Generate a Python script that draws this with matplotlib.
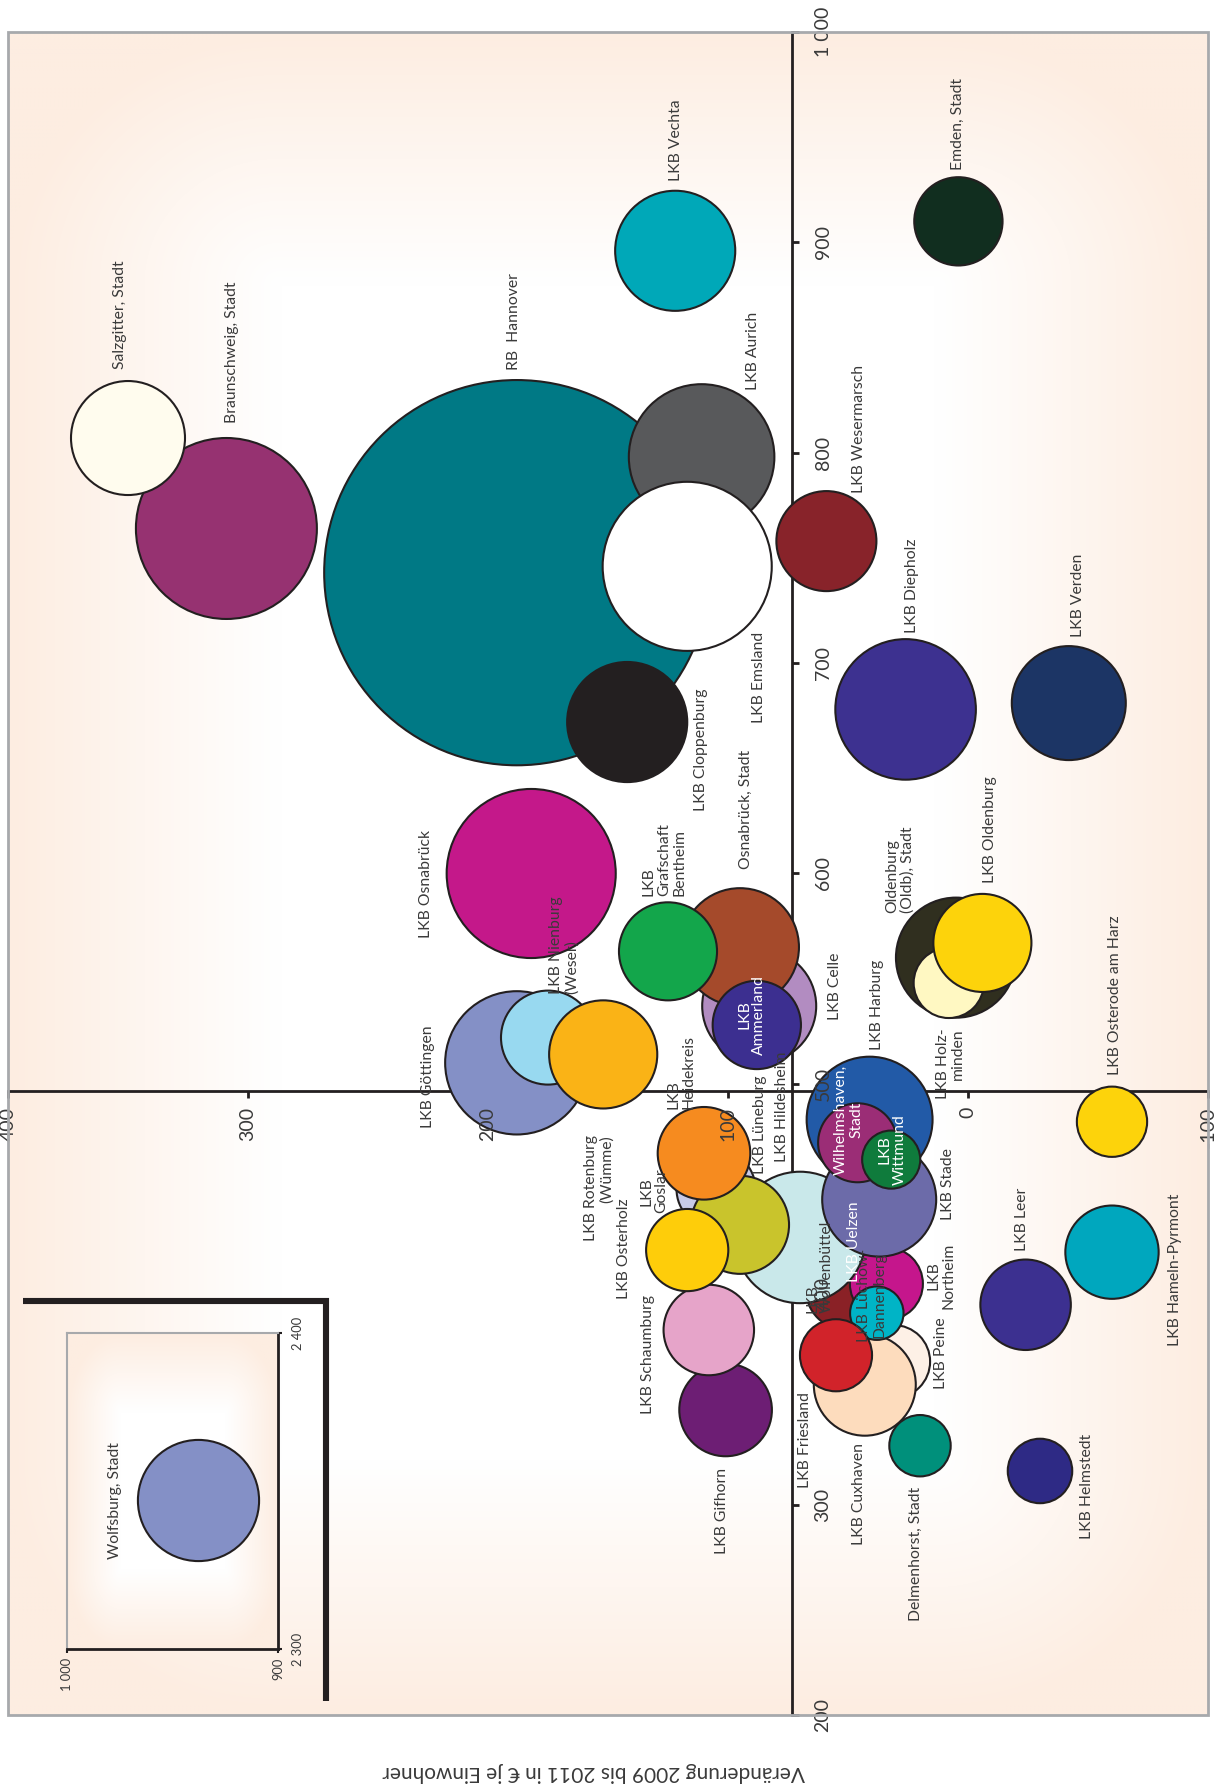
import numpy as np
import matplotlib.pyplot as plt
from matplotlib.patches import Rectangle
from matplotlib.lines import Line2D
from matplotlib.transforms import offset_copy

plt.rcParams['font.family'] = ['Lato', 'DejaVu Sans']

# Kreise / Städte in Zeichenreihenfolge (hinten -> vorne)
namen = [
    "RB  Hannover", "LKB Aurich", "LKB Emsland", "LKB Cloppenburg",
    "Braunschweig, Stadt", "Salzgitter, Stadt", "LKB Vechta", "Emden, Stadt",
    "LKB Wesermarsch", "LKB Diepholz", "LKB Verden", "LKB Osnabrück",
    "LKB Göttingen", "LKB Nienburg (Weser)", "LKB Rotenburg (Wümme)",
    "LKB Celle", "Osnabrück, Stadt", "LKB Grafschaft Bentheim", "LKB Ammerland",
    "Oldenburg (Oldb), Stadt", "LKB Holzminden", "LKB Oldenburg",
    "LKB Osterode am Harz", "LKB Peine", "LKB Cuxhaven", "LKB Wolfenbüttel",
    "LKB Northeim", "LKB Lüchow-Dannenberg", "LKB Friesland", "Delmenhorst, Stadt",
    "LKB Hildesheim", "LKB Goslar", "LKB Lüneburg", "LKB Heidekreis",
    "LKB Gifhorn", "LKB Schaumburg", "LKB Osterholz", "LKB Harburg",
    "LKB Uelzen", "Wilhelmshaven, Stadt", "LKB Wittmund",
    "LKB Helmstedt", "LKB Leer", "LKB Hameln-Pyrmont",
]
# Veränderung 2009 bis 2011 in € je Einwohner (waagerecht)
veraenderung = [
    188, 111, 117, 142,
    309, 350, 122, 4,
    59, 26, -42, 182,
    188, 175, 152,
    87, 95, 125, 88,
    5, 8, -6,
    -60, 31, 43, 51,
    34, 38, 55, 20,
    70, 105, 95, 110,
    101, 108, 117, 41,
    37, 46, 32,
    -30, -24, -60,
]
# Niveau 2011 in € je Einwohner (senkrecht)
niveau = [
    743, 798, 746, 672,
    764, 807, 896, 910,
    758, 678, 681, 600,
    510, 522, 514,
    537, 565, 563, 528,
    560, 548, 567,
    482, 368, 357, 402,
    405, 391, 371, 328,
    427, 450, 433, 467,
    345, 383, 421, 483,
    445, 472, 464,
    316, 395, 420,
]
# Einwohner in Tausend (Blasenfläche)
einwohner = [
    1142, 163, 220, 111,
    252, 100, 111, 60,
    77, 152, 100, 220,
    158, 68, 90,
    100, 107, 74, 60,
    111, 38, 74,
    38, 41, 80, 48,
    41, 22, 40, 29,
    133, 48, 74, 66,
    66, 63, 52, 122,
    100, 48, 26,
    32, 63, 67,
]
# Niedersachsen-Mittel (Achsenkreuz)
mittel_veraenderung = 73.3
mittel_niveau = 496.7

# Ausreißer im Einschub
wolfsburg_veraenderung = 938
wolfsburg_niveau = 2347
wolfsburg_einwohner = 113

farben = [
    '#007985', '#58595b', '#ffffff', '#231f20',
    '#963271', '#fffcee', '#00a8b8', '#112e1f',
    '#88232a', '#3d3190', '#1c3565', '#c4188a',
    '#8490c6', '#98d9f0', '#fab316',
    '#b28cc1', '#a54a2b', '#13a64b', '#3c2f90',
    '#302f1f', '#fff8c2', '#fdd30b',
    '#fdd30b', '#fdf0e6', '#fddcbd', '#8a2126',
    '#c5168c', '#00b4c6', '#d1232a', '#00907b',
    '#c9e8ea', '#c8cbe8', '#c9c42c', '#f68b1f',
    '#6d1e74', '#e6a4c9', '#fecd0a', '#225aa7',
    '#6c6ba9', '#9b2d76', '#0f7b3c',
    '#2e2a85', '#3c3090', '#00a7be',
]

dunkel = '#231f20'
textfarbe = '#3a3a3a'
W, H = 1215, 1792
PX_JE_WURZEL = 5.7   # Blasenradius in Pixel je Wurzel(Tsd. Einwohner)

# Beschriftungen: (Blase, Text, dx, dy in Pixel, va, Ausrichtung, Farbe)
beschriftungen = [
    ("Salzgitter, Stadt", "Salzgitter, Stadt", -8, -69, 'bottom', 'left', textfarbe),
    ("Braunschweig, Stadt", "Braunschweig, Stadt", 6, -105, 'bottom', 'left', textfarbe),
    ("RB  Hannover", "RB  Hannover", -3, -203, 'bottom', 'left', textfarbe),
    ("LKB Aurich", "LKB Aurich", 51, -67, 'bottom', 'left', textfarbe),
    ("LKB Emsland", "LKB Emsland", 72, 157, 'bottom', 'left', textfarbe),
    ("LKB Cloppenburg", "LKB Cloppenburg", 74, -34, 'top', 'left', textfarbe),
    ("LKB Vechta", "LKB Vechta", 1, -70, 'bottom', 'left', textfarbe),
    ("Emden, Stadt", "Emden, Stadt", -1, -51, 'bottom', 'left', textfarbe),
    ("LKB Wesermarsch", "LKB Wesermarsch", 33, -48, 'bottom', 'left', textfarbe),
    ("LKB Diepholz", "LKB Diepholz", 6, -76, 'bottom', 'left', textfarbe),
    ("LKB Verden", "LKB Verden", 9, -66, 'bottom', 'left', textfarbe),
    ("LKB Osnabrück", "LKB Osnabrück", -105, 65, 'bottom', 'left', textfarbe),
    ("LKB Göttingen", "LKB Göttingen", -89, 65, 'bottom', 'left', textfarbe),
    ("LKB Nienburg (Weser)", "LKB Nienburg\n(Weser)", 16, -44, 'bottom', 'left', textfarbe),
    ("LKB Rotenburg (Wümme)", "LKB Rotenburg\n(Wümme)", -4, 81, 'top', 'right', textfarbe),
    ("Osnabrück, Stadt", "Osnabrück, Stadt", 6, -78, 'bottom', 'left', textfarbe),
    ("LKB Celle", "LKB Celle", 76, 14, 'bottom', 'left', textfarbe),
    ("LKB Grafschaft Bentheim", "LKB\nGrafschaft\nBentheim", -4, -55, 'bottom', 'left', textfarbe),
    ("LKB Ammerland", "LKB\nAmmerland", -5, -10, 'center', 'center', 'white'),
    ("Oldenburg (Oldb), Stadt", "Oldenburg\n(Oldb), Stadt", -56, -45, 'bottom', 'left', textfarbe),
    ("LKB Holzminden", "LKB Holz-\nminden", 2, 45, 'top', 'right', textfarbe),
    ("LKB Oldenburg", "LKB Oldenburg", 8, -60, 'bottom', 'left', textfarbe),
    ("LKB Osterode am Harz", "LKB Osterode am Harz", 3, -47, 'bottom', 'left', textfarbe),
    ("LKB Harburg", "LKB Harburg", 7, -70, 'bottom', 'left', textfarbe),
    ("Wilhelmshaven, Stadt", "Wilhelmshaven,\nStadt", -9, -23, 'center', 'center', 'white'),
    ("LKB Wittmund", "LKB\nWittmund", 1, -10, 'center', 'center', 'white'),
    ("LKB Uelzen", "LKB Uelzen", -25, 42, 'center', 'center', 'white'),
    ("LKB Uelzen", "LKB Stade", 69, 20, 'bottom', 'left', textfarbe),
    ("LKB Wolfenbüttel", "LKB\nWolfenbüttel", -26, 23, 'bottom', 'left', textfarbe),
    ("LKB Lüchow-Dannenberg", "LKB Lüchow-\nDannenberg", -5, 29, 'bottom', 'center', textfarbe),
    ("LKB Northeim", "LKB\nNortheim", 55, -8, 'center', 'center', textfarbe),
    ("LKB Peine", "LKB Peine", 47, 27, 'bottom', 'left', textfarbe),
    ("LKB Friesland", "LKB Friesland", -31, 37, 'top', 'left', textfarbe),
    ("LKB Cuxhaven", "LKB Cuxhaven", -6, 58, 'top', 'left', textfarbe),
    ("Delmenhorst, Stadt", "Delmenhorst, Stadt", -4, 41, 'top', 'left', textfarbe),
    ("LKB Helmstedt", "LKB Helmstedt", 47, -37, 'top', 'left', textfarbe),
    ("LKB Leer", "LKB Leer", -4, -54, 'bottom', 'left', textfarbe),
    ("LKB Hameln-Pyrmont", "LKB Hameln-Pyrmont", 63, -59, 'top', 'left', textfarbe),
    ("LKB Gifhorn", "LKB Gifhorn", -4, 58, 'top', 'left', textfarbe),
    ("LKB Schaumburg", "LKB Schaumburg", -61, 84, 'bottom', 'left', textfarbe),
    ("LKB Osterholz", "LKB Osterholz", -63, 49, 'bottom', 'left', textfarbe),
    ("LKB Goslar", "LKB\nGoslar", -62, 2, 'center', 'center', textfarbe),
    ("LKB Heidekreis", "LKB\nHeidekreis", -23, -44, 'bottom', 'left', textfarbe),
    ("LKB Lüneburg", "LKB Lüneburg", 20, -51, 'bottom', 'left', textfarbe),
    ("LKB Hildesheim", "LKB Hildesheim", -18, -75, 'bottom', 'left', textfarbe),
]


def fig_box(links, oben, rechts, unten):
    return [links / W, 1 - unten / H, (rechts - links) / W, (unten - oben) / H]


def verlauf(nx, ny, ax_rand, ay_rand):
    u, v = np.meshgrid(np.linspace(-1, 1, nx), np.linspace(-1, 1, ny))
    tx = np.clip((np.abs(u) - (1 - ax_rand)) / ax_rand, 0, 1)
    ty = np.clip((np.abs(v) - (1 - ay_rand)) / ay_rand, 0, 1)
    t = np.clip(np.sqrt(tx ** 2 + ty ** 2), 0, 1)
    pfirsich = np.array([253, 237, 225]) / 255
    return 1 - t[..., None] * (1 - pfirsich)


def flaeche(ew, dpi):
    r = PX_JE_WURZEL * np.sqrt(np.asarray(ew, dtype=float))
    return (2 * r * 72 / dpi) ** 2


fig = plt.figure(figsize=(12.15, 17.92), dpi=100)
ax = fig.add_axes(fig_box(8, 32, 1208, 1715))
ax.imshow(verlauf(300, 420, 0.45, 0.3), extent=(400, -100, 200, 1000),
          aspect='auto', zorder=0, interpolation='bilinear')
ax.set_xlim(400, -100)
ax.set_ylim(200, 1000)

# Achsenkreuz
for s in ['top', 'left']:
    ax.spines[s].set_visible(False)
ax.spines['right'].set_position(('data', mittel_veraenderung))
ax.spines['bottom'].set_position(('data', mittel_niveau))
for s in ['right', 'bottom']:
    ax.spines[s].set_linewidth(2)
    ax.spines[s].set_color(dunkel)
    ax.spines[s].set_zorder(2)
ax.yaxis.tick_right()
y_ticks = list(range(200, 1001, 100))
x_ticks = list(range(400, -101, -100))
ax.set_yticks(y_ticks)
ax.set_xticks(x_ticks)
ax.tick_params(axis='both', direction='out', length=5, width=2, color=dunkel,
               labelbottom=False, labelright=False, labelleft=False)

tr_y = offset_copy(ax.transData, fig=fig, x=31 * 0.72, y=0, units='points')
for w in y_ticks:
    txt = f"{w:,}".replace(",", " ")
    ax.text(mittel_veraenderung, w, txt, transform=tr_y, rotation=90, ha='center',
            va='center', fontsize=14, color=textfarbe, zorder=8, clip_on=False)
tr_x = offset_copy(ax.transData, fig=fig, x=0, y=-16 * 0.72, units='points')
for w in x_ticks:
    ax.text(w, mittel_niveau, str(w), transform=tr_x, rotation=90, ha='center',
            va='top', fontsize=14, color=textfarbe, zorder=8)

# Blasen
ax.scatter(veraenderung, niveau, s=flaeche(einwohner, fig.dpi), c=farben,
           edgecolors=dunkel, linewidths=1.5, zorder=3)

for name, text, dx, dy, va, ma, col in beschriftungen:
    i = namen.index(name)
    ax.annotate(text, (veraenderung[i], niveau[i]), xytext=(dx * 0.72, -dy * 0.72),
                textcoords='offset points', rotation=90, ha='center', va=va,
                multialignment=ma, fontsize=11.3, color=col, zorder=7,
                linespacing=1.1)

ax.add_patch(Rectangle((0, 0), 1, 1, transform=ax.transAxes, fill=False,
                       ec='#a7a9ac', lw=2, zorder=9, clip_on=False))

# Einschub Wolfsburg
fig.add_artist(Line2D([23 / W, 326 / W, 326 / W],
                      [1 - 1300.7 / H, 1 - 1300.7 / H, 1 - 1700.7 / H],
                      lw=4.4, color=dunkel, solid_joinstyle='miter',
                      solid_capstyle='butt', transform=fig.transFigure))
axi = fig.add_axes(fig_box(66.7, 1333, 278, 1649))
axi.imshow(verlauf(120, 180, 0.5, 0.5), extent=(1000, 900, 2300, 2400),
           aspect='auto', zorder=0, interpolation='bilinear')
axi.set_xlim(1000, 900)
axi.set_ylim(2300, 2400)
for s in ['top', 'left']:
    axi.spines[s].set_color('#a7a9ac')
    axi.spines[s].set_linewidth(1.5)
for s in ['right', 'bottom']:
    axi.spines[s].set_color(dunkel)
    axi.spines[s].set_linewidth(2)
axi.yaxis.tick_right()
axi.set_xticks([1000, 900])
axi.set_yticks([2300, 2400])
axi.tick_params(axis='both', direction='out', length=3, width=1.5, color=dunkel,
                labelbottom=False, labelright=False, labelleft=False)
tri_x = offset_copy(axi.transData, fig=fig, x=0, y=-9 * 0.72, units='points')
for w in [1000, 900]:
    axi.text(w, 2300, f"{w:,}".replace(",", " "), transform=tri_x, rotation=90,
             ha='center', va='top', fontsize=9.3, color=textfarbe)
tri_y = offset_copy(axi.transData, fig=fig, x=20 * 0.72, y=0, units='points')
for w in [2300, 2400]:
    axi.text(900, w, f"{w:,}".replace(",", " "), transform=tri_y, rotation=90,
             ha='center', va='center', fontsize=9.3, color=textfarbe, clip_on=False)
axi.scatter([wolfsburg_veraenderung], [wolfsburg_niveau],
            s=flaeche([wolfsburg_einwohner], fig.dpi), c='#8490c6',
            edgecolors=dunkel, linewidths=1.5, zorder=3)
axi.annotate("Wolfsburg, Stadt", (wolfsburg_veraenderung, wolfsburg_niveau),
             xytext=(-83 * 0.72, 0), textcoords='offset points', rotation=90,
             ha='center', va='center', fontsize=11.3, color=textfarbe)

fig.text(594 / W, 1 - 1772 / H, "Veränderung 2009 bis 2011 in € je Einwohner",
         rotation=180, ha='center', va='center', fontsize=15, color=textfarbe)

fig.savefig("out.png", dpi=100)
